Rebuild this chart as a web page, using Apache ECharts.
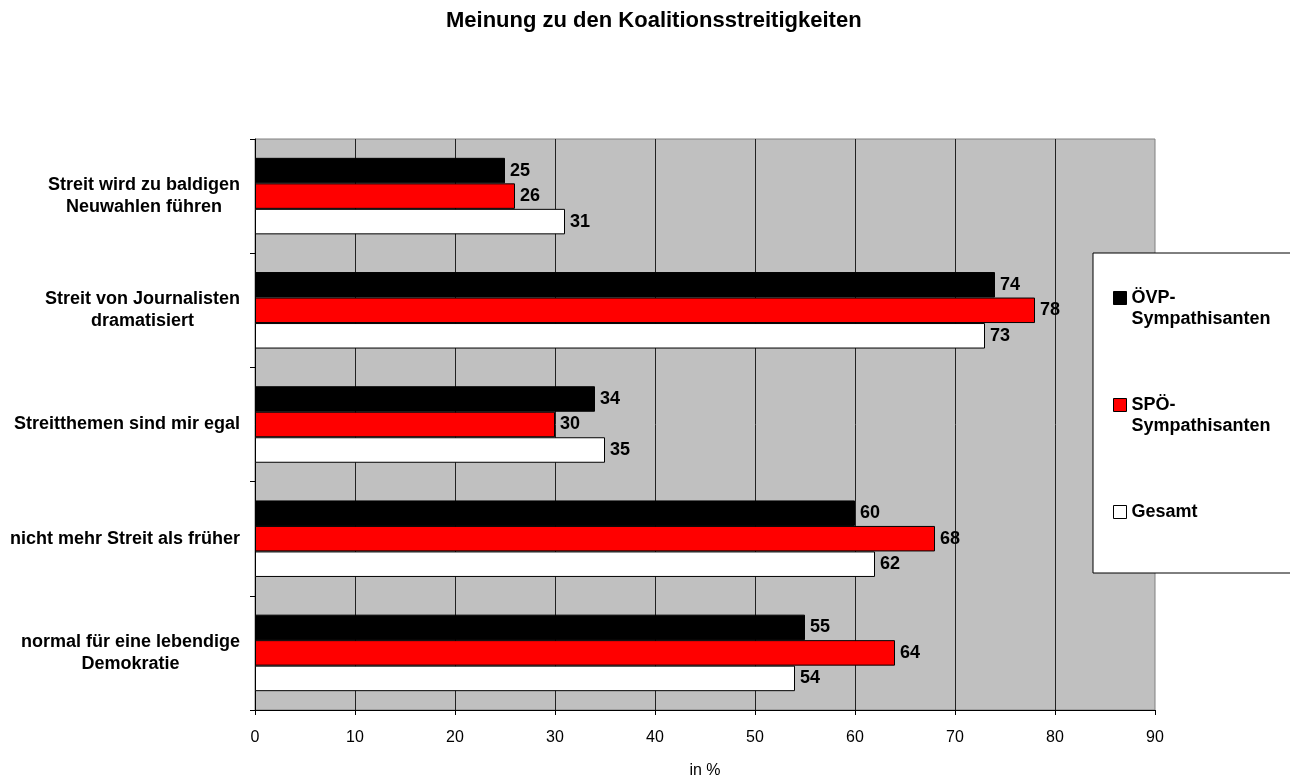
<!DOCTYPE html>
<html>
<head>
<meta charset="utf-8">
<title>Meinung zu den Koalitionsstreitigkeiten</title>
<script src="https://cdn.jsdelivr.net/npm/echarts@6/dist/echarts.min.js"></script>
<style>
  html, body { margin: 0; padding: 0; background: #fff; }
  #chart { width: 1290px; height: 778px; }
</style>
</head>
<body>
<div id="chart"></div>
<script>
var categories = [
  'Streit wird zu baldigen\nNeuwahlen führen',
  'Streit von Journalisten\ndramatisiert',
  'Streitthemen sind mir egal',
  'nicht mehr Streit als früher',
  'normal für eine lebendige\nDemokratie'
]
var seriesNames = ['ÖVP-Sympathisanten', 'SPÖ-Sympathisanten', 'Gesamt']
var oevp = [25, 74, 34, 60, 55]
var spoe = [26, 78, 30, 68, 64]
var gesamt = [31, 73, 35, 62, 54]
var xTicks = [0, 10, 20, 30, 40, 50, 60, 70, 80, 90]

var font = "'Liberation Sans', Arial, sans-serif"

var make_series = function(name, data, color) {
  return {
    name: name,
    type: 'bar',
    data: data,
    barGap: '0%',
    barCategoryGap: '33%',
    itemStyle: { color: color, borderColor: '#000', borderWidth: 1 },
    label: {
      show: true,
      position: 'right',
      distance: 5,
      color: '#000',
      fontFamily: font,
      fontWeight: 'bold',
      fontSize: 18
    }
  }
}

var init = function() {
  var chart = echarts.init(document.getElementById('chart'))
  var option = {
    backgroundColor: '#fff',
    animation: false,
    title: {
      text: 'Meinung zu den Koalitionsstreitigkeiten',
      left: 446,
      top: 10,
      padding: 0,
      textStyle: { fontFamily: font, fontWeight: 'bold', fontSize: 22, color: '#000' }
    },
    legend: {
      orient: 'vertical',
      left: 1093,
      top: 253,
      padding: [13.5, 40, 29.5, 20],
      itemGap: 44,
      itemWidth: 13,
      itemHeight: 13,
      icon: 'rect',
      backgroundColor: '#fff',
      borderColor: '#000',
      borderWidth: 1,
      itemStyle: { borderColor: '#000', borderWidth: 1 },
      data: seriesNames,
      formatter: function(name) {
        if (name.indexOf('-') >= 0) {
          return ' \n' + name.replace('-', '-\n')
        }
        return ' \n' + name + '\n '
      },
      textStyle: { fontFamily: font, fontWeight: 'bold', fontSize: 18, lineHeight: 21, color: '#000' }
    },
    grid: {
      left: 255,
      right: 135,
      top: 139,
      bottom: 68,
      outerBoundsMode: 'none',
      containLabel: false,
      show: true,
      backgroundColor: '#c0c0c0',
      borderColor: '#808080',
      borderWidth: 1
    },
    xAxis: {
      type: 'value',
      min: xTicks[0],
      max: xTicks[xTicks.length - 1],
      interval: 10,
      name: 'in %',
      nameLocation: 'middle',
      nameGap: 53,
      nameTextStyle: { fontFamily: font, fontSize: 16, color: '#000' },
      axisLine: { show: true, lineStyle: { color: '#000', width: 1 } },
      axisTick: { show: true, length: 5, lineStyle: { color: '#000' } },
      axisLabel: { margin: 20, fontFamily: font, fontSize: 16, color: '#000' },
      splitLine: { show: true, showMinLine: false, showMaxLine: false, lineStyle: { color: '#222', width: 1 } }
    },
    yAxis: {
      type: 'category',
      data: categories,
      inverse: true,
      axisLine: { show: true, lineStyle: { color: '#000', width: 1 } },
      axisTick: { show: true, length: 5, lineStyle: { color: '#000' } },
      axisLabel: {
        margin: 15,
        color: '#000',
        fontFamily: font,
        fontWeight: 'bold',
        fontSize: 18,
        lineHeight: 22,
        formatter: function(value) {
          return value.split('\n').map(function(s) { return '{c|' + s + '}' }).join('\n')
        },
        rich: {
          c: { align: 'center', fontFamily: font, fontWeight: 'bold', fontSize: 18, lineHeight: 22, color: '#000' }
        }
      },
      splitLine: { show: false }
    },
    series: [
      make_series(seriesNames[0], oevp, '#000000'),
      make_series(seriesNames[1], spoe, '#ff0000'),
      make_series(seriesNames[2], gesamt, '#ffffff')
    ]
  }
  chart.setOption(option)
}

init()
</script>
</body>
</html>
